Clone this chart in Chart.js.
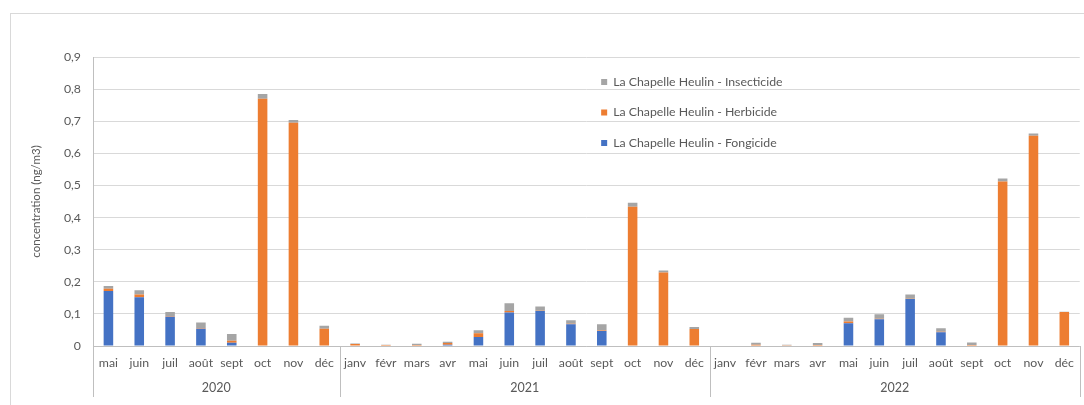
<!DOCTYPE html>
<html>
<head>
<meta charset="utf-8">
<script src="https://cdn.jsdelivr.net/npm/chart.js@4/dist/chart.umd.min.js"></script>
<style>
  html, body { margin: 0; padding: 0; background: #ffffff; }
  #wrap { position: relative; width: 1084px; height: 405px; overflow: hidden; }
  #frame { position: absolute; left: 10px; top: 13px; width: 1200px; height: 500px; border: 1px solid #d9d9d9; box-sizing: border-box; }
  canvas { position: absolute; left: 0; top: 0; }
</style>
</head>
<body>
<div id="wrap">
  <div id="frame"></div>
  <canvas id="c" width="1084" height="405"></canvas>
</div>
<script>
const years = ['2020', '2021', '2022'];
const monthsByYear = [
  ['mai', 'juin', 'juil', 'août', 'sept', 'oct', 'nov', 'déc'],
  ['janv', 'févr', 'mars', 'avr', 'mai', 'juin', 'juil', 'août', 'sept', 'oct', 'nov', 'déc'],
  ['janv', 'févr', 'mars', 'avr', 'mai', 'juin', 'juil', 'août', 'sept', 'oct', 'nov', 'déc']
];
const fongicide = [
  0.171, 0.152, 0.091, 0.054, 0.010, 0, 0, 0,
  0, 0, 0, 0.004, 0.028, 0.104, 0.109, 0.068, 0.047, 0, 0, 0,
  0, 0, 0, 0, 0.071, 0.083, 0.146, 0.043, 0, 0, 0, 0
];
const herbicide = [
  0.007, 0.008, 0.002, 0.001, 0.006, 0.770, 0.695, 0.054,
  0.006, 0.003, 0.003, 0.005, 0.012, 0.005, 0.001, 0.001, 0.001, 0.434, 0.229, 0.053,
  0, 0.004, 0.002, 0.003, 0.005, 0.002, 0.001, 0.001, 0.003, 0.512, 0.655, 0.106
];
const insecticide = [
  0.009, 0.014, 0.013, 0.018, 0.021, 0.015, 0.009, 0.009,
  0.002, 0.001, 0.004, 0.004, 0.009, 0.024, 0.013, 0.011, 0.020, 0.012, 0.006, 0.006,
  0, 0.006, 0.002, 0.006, 0.012, 0.014, 0.013, 0.011, 0.008, 0.010, 0.007, 0.001
];
const seriesNames = ['La Chapelle Heulin - Fongicide', 'La Chapelle Heulin - Herbicide', 'La Chapelle Heulin - Insecticide'];
const yTitle = 'concentration (ng/m3)';

const labels = [].concat(...monthsByYear);
const FONT = 'Lato, "Open Sans", sans-serif';
const TXT = '#595959';

const groupPlugin = {
  id: 'groups',
  afterDraw(chart) {
    const ctx = chart.ctx;
    const x = chart.scales.x;
    const area = chart.chartArea;
    const half = (x.getPixelForValue(1) - x.getPixelForValue(0)) / 2;
    ctx.save();
    // axis baseline
    ctx.strokeStyle = '#bfbfbf';
    ctx.lineWidth = 1;
    ctx.beginPath();
    ctx.moveTo(area.left, Math.round(area.bottom) + 0.5);
    ctx.lineTo(area.right, Math.round(area.bottom) + 0.5);
    ctx.stroke();
    // left axis line
    ctx.beginPath();
    ctx.moveTo(Math.round(area.left) + 0.5, area.top);
    ctx.lineTo(Math.round(area.left) + 0.5, area.bottom + 51);
    ctx.stroke();
    // group separators and year labels
    let idx = 0;
    ctx.font = '12.5px ' + FONT;
    ctx.fillStyle = TXT;
    ctx.textAlign = 'center';
    ctx.textBaseline = 'middle';
    monthsByYear.forEach((m, g) => {
      const start = x.getPixelForValue(idx) - half;
      const end = x.getPixelForValue(idx + m.length - 1) + half;
      ctx.beginPath();
      ctx.moveTo(Math.round(end) + 0.5, area.bottom);
      ctx.lineTo(Math.round(end) + 0.5, area.bottom + 51);
      ctx.stroke();
      ctx.fillText(years[g], (start + end) / 2, area.bottom + 42);
      idx += m.length;
    });
    // y title
    ctx.save();
    ctx.translate(36, (area.top + area.bottom) / 2);
    ctx.rotate(-Math.PI / 2);
    ctx.font = '11.5px ' + FONT;
    ctx.fillText(yTitle, 0, 0);
    ctx.restore();
    // legend (reverse order)
    const lx = area.left + (area.right - area.left) * 0.515;
    const ly0 = area.top + 25;
    ctx.font = '12.3px ' + FONT;
    ctx.textAlign = 'left';
    const ds = chart.data.datasets;
    for (let i = ds.length - 1, k = 0; i >= 0; i--, k++) {
      const yy = ly0 + k * 30.5;
      ctx.fillStyle = ds[i].backgroundColor;
      ctx.fillRect(lx, yy - 3, 6, 6);
      ctx.fillStyle = TXT;
      ctx.fillText(ds[i].label, lx + 12, yy);
    }
    ctx.restore();
  }
};

new Chart(document.getElementById('c'), {
  type: 'bar',
  data: {
    labels: labels,
    datasets: [
      { label: seriesNames[0], data: fongicide, backgroundColor: '#4472C4' },
      { label: seriesNames[1], data: herbicide, backgroundColor: '#ED7D31' },
      { label: seriesNames[2], data: insecticide, backgroundColor: '#A5A5A5' }
    ]
  },
  options: {
    responsive: false,
    animation: false,
    barPercentage: 0.62,
    categoryPercentage: 0.5,
    layout: { padding: { left: 0, right: 4, top: 57, bottom: 0 } },
    plugins: { legend: { display: false }, tooltip: { enabled: false } },
    scales: {
      x: {
        stacked: true,
        grid: { display: false, drawTicks: false },
        border: { display: false },
        ticks: { color: TXT, font: { family: FONT, size: 12.3 }, padding: 10, maxRotation: 0, autoSkip: false },
        afterFit(s) { s.height = 59; }
      },
      y: {
        stacked: true,
        min: 0, max: 0.9,
        grid: { color: '#d9d9d9', drawTicks: false },
        border: { display: false },
        ticks: {
          stepSize: 0.1, color: TXT, font: { family: FONT, size: 12.3 }, padding: 12,
          callback: v => (Math.abs(v) < 1e-9 ? '0' : v.toFixed(1).replace('.', ','))
        },
        afterFit(s) { s.width = 93; }
      }
    }
  },
  plugins: [groupPlugin]
});
</script>
</body>
</html>
